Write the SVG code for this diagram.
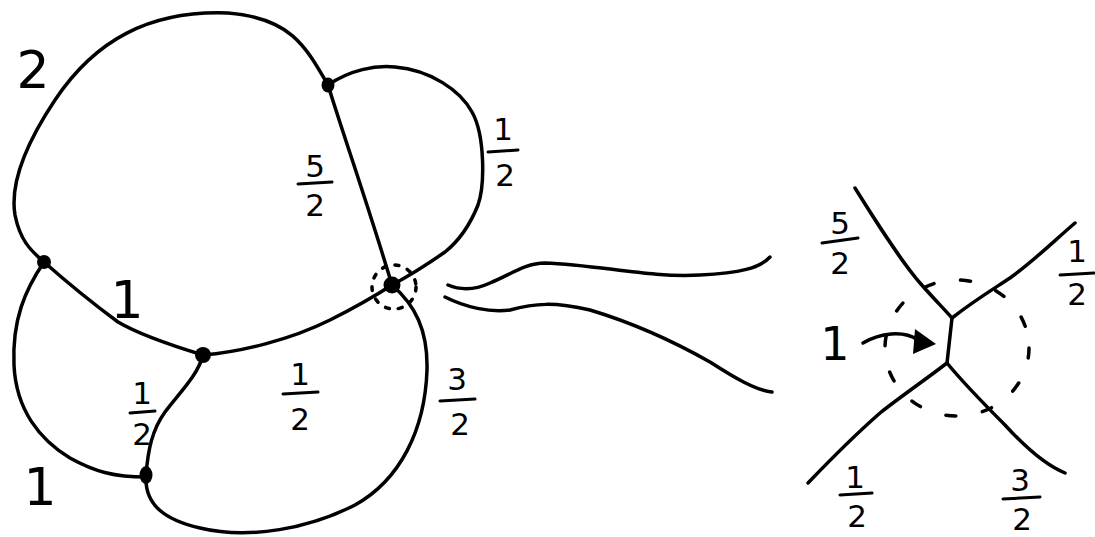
<svg xmlns="http://www.w3.org/2000/svg" width="1095" height="537" viewBox="0 0 1095 537">
<style>
.e{fill:none;stroke:#000;stroke-width:3.5;stroke-linecap:round;stroke-linejoin:round}
.d{fill:none;stroke:#000;stroke-width:3.5;stroke-linecap:round}
.bar{stroke:#000;stroke-width:3;stroke-linecap:round}
.t{font-family:"DejaVu Sans",sans-serif;font-size:31px;text-anchor:middle;fill:#000}
.big{font-size:52px}
</style>
<rect width="1095" height="537" fill="#fff"/>
<g id="connectors">
<path class="e" d="M328,85 C305,45 290,18 228,13 C150,10 95,40 55,100 C25,145 10,185 15,215 C20,240 30,250 44,262"/>
<path class="e" d="M328,85 C345,140 368,205 392,285"/>
<path class="e" d="M328,85 C350,70 375,65 395,67 C430,70 460,90 472,112 C485,135 485,185 478,205 C470,225 460,240 445,252 C425,266 405,278 392,285"/>
<path class="e" d="M44,262 C70,285 95,305 118,322 C140,335 170,345 203,355"/>
<path class="e" d="M203,355 C240,352 290,340 330,320 C360,305 375,296 392,285"/>
<path class="e" d="M44,262 C25,290 12,320 14,365 C16,410 40,440 70,458 C95,472 115,477 146,477"/>
<path class="e" d="M203,355 C198,375 180,392 165,412 C152,430 148,450 146,475"/>
<path class="e" d="M146,477 C145,505 165,520 200,528 C250,540 310,528 355,505 C400,480 425,430 427,370 C428,330 415,305 392,285"/>
<path class="e" d="M448,285 C460,290 475,290 490,283 C510,275 525,263 545,263 C600,265 650,278 700,275 C740,273 760,268 770,257"/>
<path class="e" d="M445,297 C465,307 490,313 510,310 C535,303 555,302 590,310 C640,325 680,345 710,362 C735,378 755,390 772,392"/>
<path class="e" d="M855,188 C875,220 900,260 920,283 C935,300 945,310 952,318"/>
<path class="e" d="M952,318 L947,363"/>
<path class="e" d="M952,318 C975,300 995,288 1010,278 C1035,260 1055,240 1075,223"/>
<path class="e" d="M947,363 C925,380 900,397 880,413 C855,435 830,460 808,483"/>
<path class="e" d="M947,363 C965,385 985,405 1005,425 C1025,447 1045,465 1065,473"/>
<path class="e" d="M863,343 C880,333 903,330 918,340"/>
<polygon points="915,329 913,354 936,344" fill="#000"/>
</g>
<g id="dotted-circles">
<circle class="d" cx="394" cy="287" r="22" stroke-dasharray="4 9"/>
<ellipse class="d" cx="957" cy="348" rx="72" ry="68" stroke-dasharray="10 27"/>
</g>
<g id="node-a"><ellipse cx="328" cy="85" rx="6.5" ry="7.5" fill="#000"/></g>
<g id="node-b"><circle cx="44" cy="262" r="7" fill="#000"/></g>
<g id="node-c"><circle cx="203" cy="355" r="8" fill="#000"/></g>
<g id="node-d"><ellipse cx="146" cy="475" rx="6.5" ry="9" fill="#000"/></g>
<g id="node-e"><circle cx="392" cy="285" r="8.5" fill="#000"/></g>
<g id="labels">
<text class="t big" x="33" y="88">2</text>
<text class="t big" x="127" y="318">1</text>
<text class="t big" x="40" y="505">1</text>
<text class="t" x="835" y="360" style="font-size:46px">1</text>
<g id="f1"><text class="t" x="315" y="177">5</text><line class="bar" x1="298" y1="184" x2="332" y2="182"/><text class="t" x="315" y="216">2</text></g>
<g id="f2"><text class="t" x="503" y="140">1</text><line class="bar" x1="488" y1="152" x2="518" y2="150"/><text class="t" x="505" y="186">2</text></g>
<g id="f3"><text class="t" x="142" y="404">1</text><line class="bar" x1="130" y1="413" x2="155" y2="411"/><text class="t" x="142" y="445">2</text></g>
<g id="f4"><text class="t" x="300" y="385">1</text><line class="bar" x1="283" y1="394" x2="318" y2="392"/><text class="t" x="300" y="430">2</text></g>
<g id="f5"><text class="t" x="457" y="390">3</text><line class="bar" x1="440" y1="401" x2="475" y2="399"/><text class="t" x="460" y="435">2</text></g>
<g id="f6"><text class="t" x="840" y="234">5</text><line class="bar" x1="822" y1="243" x2="858" y2="238"/><text class="t" x="840" y="274">2</text></g>
<g id="f7"><text class="t" x="1077" y="262">1</text><line class="bar" x1="1060" y1="275" x2="1094" y2="273"/><text class="t" x="1077" y="305">2</text></g>
<g id="f8"><text class="t" x="855" y="488">1</text><line class="bar" x1="840" y1="495" x2="872" y2="493"/><text class="t" x="857" y="527">2</text></g>
<g id="f9"><text class="t" x="1020" y="491">3</text><line class="bar" x1="1003" y1="499" x2="1040" y2="497"/><text class="t" x="1022" y="530">2</text></g>
</g>
</svg>
